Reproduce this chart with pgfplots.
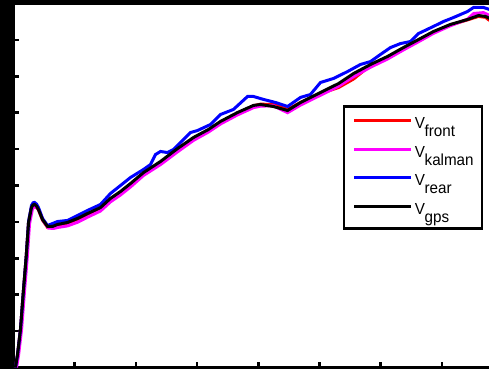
\documentclass[border=0pt]{standalone}
\usepackage{pgfplots}
\pgfplotsset{compat=1.18}
\usepackage{pgfplotstable}
\usepackage{fontspec}
\setmainfont{Liberation Sans}
\usepackage{graphicx}

\definecolor{cfront}{RGB}{255,0,0}
\definecolor{ckalman}{RGB}{255,0,255}
\definecolor{crear}{RGB}{0,0,255}

% time [s] vs. speed [m/s]
\pgfplotstableread{
t v
0.16 0.00
0.33 0.71
0.57 2.09
0.82 4.29
1.04 6.10
1.23 7.97
1.47 8.79
1.72 8.93
2.04 8.66
2.37 8.10
2.78 7.70
3.19 7.70
3.59 7.82
4.41 7.93
5.23 8.15
6.05 8.42
7.11 8.76
7.92 9.25
8.74 9.62
9.56 10.06
10.62 10.66
12.01 11.27
13.40 11.98
14.71 12.60
15.93 13.04
16.91 13.48
18.30 13.97
19.61 14.38
20.18 14.47
21.24 14.45
22.39 14.18
23.45 14.56
25.08 15.05
26.55 15.38
27.78 15.85
28.70 16.35
29.17 16.55
30.56 17.05
31.86 17.52
33.09 18.00
34.31 18.42
35.70 18.82
37.09 19.10
37.99 19.29
38.56 19.24
38.89 19.07
}\front

\pgfplotstableread{
t v
0.25 0.00
0.42 0.71
0.66 2.09
0.91 4.29
1.13 6.10
1.31 7.90
1.55 8.72
1.80 8.90
2.12 8.60
2.45 8.04
2.86 7.66
3.27 7.64
3.67 7.70
4.41 7.78
5.23 7.98
6.05 8.26
7.11 8.60
7.92 9.10
8.74 9.48
9.56 9.92
10.62 10.55
12.01 11.15
13.40 11.85
14.71 12.48
15.93 12.94
16.91 13.38
18.30 13.88
19.61 14.28
20.18 14.36
21.24 14.38
22.39 14.00
23.45 14.42
25.08 14.96
26.55 15.45
27.78 15.98
29.17 16.50
30.56 16.95
31.86 17.45
33.09 17.90
34.31 18.36
35.70 18.78
37.09 19.14
37.60 19.45
38.40 19.50
38.89 19.34
}\kalman

\pgfplotstableread{
t v
0.16 0.00
0.33 0.71
0.57 2.09
0.82 4.29
1.04 6.10
1.23 8.02
1.47 8.90
1.60 9.05
1.72 9.07
1.88 8.98
2.04 8.79
2.37 8.19
2.78 7.80
3.19 7.91
3.59 8.02
4.41 8.08
5.23 8.35
6.05 8.63
7.11 8.96
7.92 9.56
8.74 10.00
9.56 10.44
10.62 10.88
11.19 11.15
11.60 11.70
12.01 11.87
12.58 11.81
13.07 11.98
13.64 12.36
14.46 12.91
15.03 13.02
16.09 13.35
16.91 13.90
17.97 14.18
19.12 14.89
19.61 14.89
20.42 14.73
21.41 14.56
22.39 14.34
23.45 14.84
24.26 15.00
25.08 15.66
26.14 15.88
27.29 16.26
28.35 16.65
29.17 16.81
29.98 17.20
30.80 17.58
31.62 17.80
32.43 17.91
33.09 18.35
34.31 18.74
35.13 19.01
35.95 19.23
37.09 19.56
37.58 19.78
38.40 19.78
38.89 19.67
}\rear

\pgfplotstableread{
t v
0.16 0.00
0.33 0.71
0.57 2.09
0.82 4.29
1.04 6.10
1.23 7.97
1.47 8.79
1.59 8.93
1.72 8.96
1.88 8.87
2.04 8.68
2.37 8.13
2.78 7.75
3.19 7.75
3.59 7.86
4.41 7.97
5.23 8.19
6.05 8.46
7.11 8.79
7.92 9.29
8.74 9.67
9.56 10.11
10.62 10.71
12.01 11.32
13.40 12.03
14.71 12.64
15.93 13.08
16.91 13.52
18.30 14.01
19.61 14.40
20.18 14.45
21.24 14.34
22.39 14.12
23.45 14.56
25.08 15.11
26.55 15.60
27.78 16.15
29.17 16.65
30.56 17.09
31.86 17.58
33.09 18.02
34.31 18.46
35.70 18.85
37.09 19.12
37.99 19.34
38.56 19.29
38.89 19.18
}\gps

% legend entry: V with a lowered index
\newcommand\vlab[1]{\makebox[58pt][l]{\scalebox{0.95}[1]{V\kern-0.5pt\raisebox{-8pt}[0pt][0pt]{#1}}}}

\begin{document}
\begin{tikzpicture}
\useasboundingbox (0,0) rectangle (489pt,369pt);
\fill[black] (0,0) rectangle (489pt,369pt);
\begin{scope}
\clip (0,0) rectangle (489pt,369pt);
\begin{axis}[
  at={(13.5pt,1.5pt)}, anchor=south west,
  scale only axis,
  width=479.8pt, height=364pt,
  xmin=0, xmax=39.2, ymin=0, ymax=20,
  xtick={0,5,...,35}, ytick={0,2,...,20},
  xticklabels={}, yticklabels={},
  tick pos=left, tick align=inside,
  major tick length=5.5pt,
  every tick/.style={black, line width=2.7pt},
  axis line style={line width=2.5pt},
  axis background/.style={fill=white},
  legend cell align=left,
  legend image code/.code={\draw[#1, line width=3pt] (0pt,4pt) -- (57pt,4pt);},
  legend style={
    at={(0.6888,0.7165)}, anchor=north west,
    outer sep=0pt, draw=black, line width=2.5pt, fill=white,
    inner xsep=9pt, inner ysep=3.8pt,
    row sep=0pt, column sep=2pt,
    font=\fontsize{16}{16}\selectfont,
    nodes={inner sep=0pt, text height=18.5pt, text depth=10pt},
  },
]
\addplot[cfront, line width=3pt] table[x=t, y=v] {\front};
\addlegendentry{\vlab{front}}
\addplot[ckalman, line width=3pt] table[x=t, y=v] {\kalman};
\addlegendentry{\vlab{kalman}}
\addplot[crear, line width=3pt] table[x=t, y=v] {\rear};
\addlegendentry{\vlab{rear}}
\addplot[black, line width=3pt] table[x=t, y=v] {\gps};
\addlegendentry{\vlab{gps}}
\end{axis}
\end{scope}
\end{tikzpicture}
\end{document}
